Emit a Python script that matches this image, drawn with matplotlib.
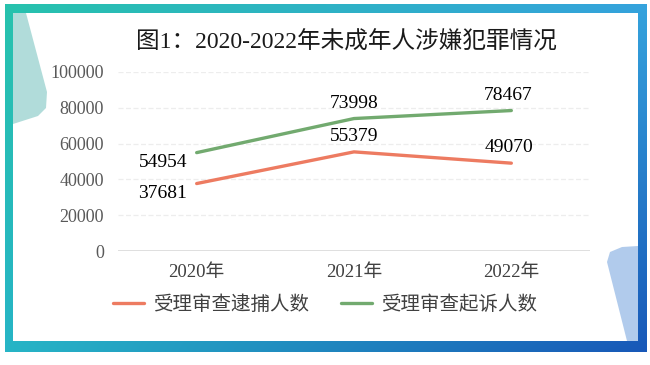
import numpy as np
import matplotlib
matplotlib.use("Agg")
import matplotlib.pyplot as plt
from matplotlib.patches import Rectangle, Polygon

years = ["2020年", "2021年", "2022年"]
arrest = [37681, 55379, 49070]
prosecute = [54954, 73998, 78467]
series_names = ["受理审查逮捕人数", "受理审查起诉人数"]
yticks = [0, 20000, 40000, 60000, 80000, 100000]
title = "图1：2020-2022年未成年人涉嫌犯罪情况"

FONT = ["Liberation Serif", "Noto Sans CJK SC", "DejaVu Sans"]
plt.rcParams["font.family"] = FONT

W, H = 650, 365
fig = plt.figure(figsize=(W / 100, H / 100), dpi=100)
fig.patch.set_facecolor("white")

bg = fig.add_axes([0, 0, 1, 1])
bg.set_xlim(0, W)
bg.set_ylim(H, 0)
bg.axis("off")

tl = np.array([0x27, 0xc2, 0xad]) / 255
tr = np.array([0x35, 0xa3, 0xdd]) / 255
bl = np.array([0x27, 0xb5, 0xc6]) / 255
br = np.array([0x18, 0x58, 0xb8]) / 255
nx, ny = 200, 100
u = np.linspace(0, 1, nx)[None, :, None]
v = np.linspace(0, 1, ny)[:, None, None]
grad = (1 - u) * (1 - v) * tl + u * (1 - v) * tr + (1 - u) * v * bl + u * v * br
bg.imshow(grad, extent=(5, 647, 352, 4), aspect="auto", zorder=1, interpolation="bilinear")
bg.add_patch(Rectangle((13, 13), 625, 328, facecolor="white", edgecolor="none", zorder=2))

bg.add_patch(Polygon([(13, 13), (26, 13), (47, 92), (46, 108), (38, 116), (13, 124)],
                     closed=True, facecolor="#a9d9d6", edgecolor="none", alpha=0.9, zorder=3))
bg.add_patch(Polygon([(607, 262), (610, 252), (622, 247), (638, 246), (638, 341), (627, 341)],
                     closed=True, facecolor="#a9c6ea", edgecolor="none", alpha=0.9, zorder=3))

left, right = 118 / W, 590 / W
bottom, top = 1 - 251 / H, 1 - 72 / H
ax = fig.add_axes([left, bottom, right - left, top - bottom])
ax.set_facecolor("none")
x = np.arange(len(years))
ax.set_xlim(-0.5, len(years) - 0.5)
ax.set_ylim(0, 100000)

for yt in yticks[1:]:
    ax.axhline(yt, color="#ededed", lw=0.9, ls=(0, (4, 2)), zorder=1)
ax.axhline(0, color="#d9d9d9", lw=1.2, zorder=1)

red = "#ed7b61"
green = "#72aa6f"
l1, = ax.plot(x, arrest, color=red, lw=2.4, solid_capstyle="round", zorder=3)
l2, = ax.plot(x, prosecute, color=green, lw=2.4, solid_capstyle="round", zorder=3)

fs_lab = 14
ax.annotate(f"{arrest[0]}", (x[0], arrest[0]), xytext=(-7, -1), textcoords="offset points",
            ha="right", va="top", fontsize=fs_lab, color="black")
ax.annotate(f"{prosecute[0]}", (x[0], prosecute[0]), xytext=(-7, -1), textcoords="offset points",
            ha="right", va="top", fontsize=fs_lab, color="black")
for i in [1, 2]:
    ax.annotate(f"{arrest[i]}", (x[i], arrest[i]), xytext=(-2 if i == 2 else 0, 5),
                textcoords="offset points", ha="center", va="bottom", fontsize=fs_lab, color="black")
    ax.annotate(f"{prosecute[i]}", (x[i], prosecute[i]), xytext=(-2 if i == 2 else 0, 5),
                textcoords="offset points", ha="center", va="bottom", fontsize=fs_lab, color="black")

ax.set_yticks(yticks)
ax.set_yticklabels([str(t) for t in yticks], fontsize=13, color="#595959")
ax.set_xticks(x)
ax.set_xticklabels(years, fontsize=13.5, color="#404040")
ax.tick_params(axis="both", length=0)
ax.tick_params(axis="y", pad=10)
ax.tick_params(axis="x", pad=9)
for s in ax.spines.values():
    s.set_visible(False)

fig.text(346 / W, 1 - 42 / H, title, ha="center", va="center", fontsize=17, color="#1a1a1a")

leg = fig.legend([l1, l2], series_names, loc="center", bbox_to_anchor=(0.5, 1 - 305 / H),
                 ncol=2, frameon=False, fontsize=14, handlelength=1.6, columnspacing=1.6,
                 handletextpad=0.5, labelcolor="#404040")

fig.savefig("out.png", dpi=100, facecolor="white")
